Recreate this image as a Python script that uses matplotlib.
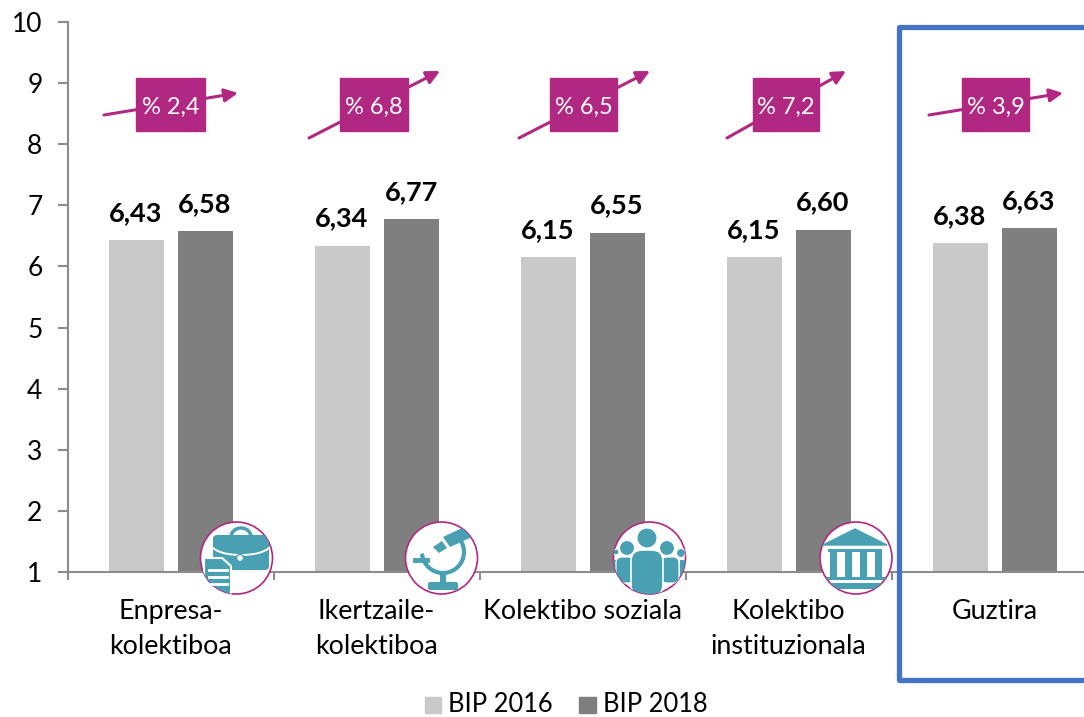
import matplotlib
matplotlib.use('Agg')
import matplotlib.pyplot as plt
import numpy as np
from matplotlib.patches import Circle, Rectangle, Polygon, FancyBboxPatch

plt.rcParams['font.family'] = ['Lato', 'DejaVu Sans']

# Data
categories = ['Enpresa-\nkolektiboa', 'Ikertzaile-\nkolektiboa', 'Kolektibo soziala',
              'Kolektibo\ninstituzionala', 'Guztira']
bip_2016 = [6.43, 6.34, 6.15, 6.15, 6.38]
bip_2018 = [6.58, 6.77, 6.55, 6.60, 6.63]
growth = ['% 2,4', '% 6,8', '% 6,5', '% 7,2', '% 3,9']
yticks = [1, 2, 3, 4, 5, 6, 7, 8, 9, 10]

W, H = 1084, 717
GREY_L = '#c9c9c9'
GREY_D = '#7f7f7f'
MAGENTA = '#b02882'
TEAL = '#48a0b2'
BLUE = '#4472c4'
AXIS = '#8c8c8c'

fig = plt.figure(figsize=(W / 100, H / 100), dpi=100)

# axes run past the right edge of the picture, last category is cut off
ax = fig.add_axes([67.5 / W, 1 - 572 / H, 1030 / W, 550 / H])
x = np.arange(len(categories))
bw = 55 / 206
off = 34.5 / 206
ax.bar(x - off, bip_2016, bw, bottom=0, color=GREY_L, label='BIP 2016')
ax.bar(x + off, bip_2018, bw, bottom=0, color=GREY_D, label='BIP 2018')

for i in range(len(categories)):
    ax.text(x[i] - off, bip_2016[i] + 0.25, f'{bip_2016[i]:.2f}'.replace('.', ','),
            ha='center', va='bottom', fontsize=19.5, fontweight='bold', color='black')
    ax.text(x[i] + off, bip_2018[i] + 0.25, f'{bip_2018[i]:.2f}'.replace('.', ','),
            ha='center', va='bottom', fontsize=19.5, fontweight='bold', color='black')

ax.set_xlim(-0.5, 4.5)
ax.set_ylim(1, 10)
ax.set_yticks(yticks)
ax.set_xticks(np.arange(-0.5, 5, 1))
ax.set_xticklabels([])
ax.tick_params(axis='y', labelsize=19, length=7, width=1.5, color=AXIS, pad=11)
ax.tick_params(axis='x', length=6, width=1.5, color=AXIS)
for s in ['top', 'right']:
    ax.spines[s].set_visible(False)
for s in ['left', 'bottom']:
    ax.spines[s].set_color(AXIS)
    ax.spines[s].set_linewidth(1.5)

# category labels, first line sits at the same height everywhere
for i, c in enumerate(categories):
    ax.annotate(c, (x[i], 1), xytext=(0, -19.5), textcoords='offset points', ha='center', va='top',
                fontsize=19.4, linespacing=1.5, color='black', annotation_clip=False)

# overlay in pixel coordinates for the annotation shapes
ov = fig.add_axes([0, 0, 1, 1], facecolor='none')
ov.set_xlim(0, W)
ov.set_ylim(H, 0)
ov.axis('off')

arrows = [(104, 115, 238, 93), (309, 138, 440, 71), (519, 138, 650, 71),
          (727, 138, 846, 71), (929, 115, 1063, 93)]
boxes = [(136, 205), (340, 408), (550, 617), (753, 819), (962, 1029)]
for (x0, y0, x1, y1), (b0, b1), g in zip(arrows, boxes, growth):
    ov.annotate('', xy=(x1, y1), xytext=(x0, y0),
                arrowprops=dict(arrowstyle='-|>,head_length=0.8,head_width=0.4', color=MAGENTA,
                                lw=2.2, shrinkA=0, shrinkB=0))
    ov.add_patch(Rectangle((b0, 78), b1 - b0, 53, color=MAGENTA, zorder=3))
    ov.text((b0 + b1) / 2, 107, g, color='white', ha='center', va='center', fontsize=17, zorder=4)

# highlight frame around the total
ov.plot([1090, 899, 899, 1090], [26.5, 26.5, 680, 680], color=BLUE, lw=3.8, solid_joinstyle='round')


def badge(cx):
    c = Circle((cx, 558), 36, fc='white', ec=MAGENTA, lw=1.2, zorder=5)
    ov.add_patch(c)
    return c


def add(p, c):
    # icon parts stay inside their round badge
    ov.add_patch(p)
    p.set_clip_path(c)


# briefcase
c = badge(236.5)
th = np.radians(np.linspace(180, 360, 20))
ov.plot(241 + 10 * np.cos(th), 537 + 9 * np.sin(th), color=TEAL, lw=2.5, zorder=6)
add(FancyBboxPatch((213, 535), 56, 35, boxstyle='round,pad=0,rounding_size=4', fc=TEAL, ec='none', zorder=6), c)
th = np.radians(np.linspace(20, 160, 30))
ov.plot(241 + 29 * np.cos(th), 545 + 10 * np.sin(th), color='white', lw=1.4, zorder=7)
ov.add_patch(Circle((240, 558), 3.5, fc='white', ec=TEAL, lw=1, zorder=7))
add(Polygon([(204, 558), (222, 558), (231, 566), (231, 594), (204, 594)], fc=TEAL, ec='white', lw=1.5, zorder=8), c)
for yy in (570, 577, 584):
    ov.plot([209, 227], [yy, yy], color='white', lw=2, zorder=9)

# microscope
c = badge(441.5)
add(Polygon([(443, 537), (462, 528), (472, 537), (450, 547)], fc=TEAL, ec='none', zorder=6), c)
add(Polygon([(433, 547), (442, 541), (447, 548), (439, 553)], fc=TEAL, ec='none', zorder=7), c)
th = np.radians(np.linspace(-35, 170, 40))
ov.plot(443 + 21 * np.cos(th), 552 + 21 * np.sin(th), color=TEAL, lw=3, zorder=6)
ov.plot([415, 427], [560, 560], color=TEAL, lw=3.5, zorder=6)
ov.add_patch(Rectangle((440, 572), 6, 12, fc=TEAL, ec='none', zorder=6))
ov.add_patch(FancyBboxPatch((428, 582), 30, 8, boxstyle='round,pad=0,rounding_size=2', fc=TEAL, ec='none', zorder=6))

# people
c = badge(649.5)
for cx_, cy_, r_ in [(616, 552, 3), (681, 553, 4.5), (627, 548, 7.5), (667, 548, 7.5), (647, 538, 10)]:
    add(Circle((cx_, cy_), r_, fc=TEAL, ec='white', lw=0.8, zorder=6), c)
for x0_, x1_ in [(613, 618), (680, 686)]:
    add(Rectangle((x0_, 560), x1_ - x0_, 17, fc=TEAL, ec='none', zorder=6), c)
for x0_, x1_ in [(616, 634), (661, 679)]:
    add(FancyBboxPatch((x0_, 557), x1_ - x0_, 26, boxstyle='round,pad=0,rounding_size=6', fc=TEAL, ec='white', lw=0.8, zorder=6), c)
add(FancyBboxPatch((631, 550), 32, 46, boxstyle='round,pad=0,rounding_size=11', fc=TEAL, ec='white', lw=1.2, zorder=7), c)

# building
c = badge(856)
ov.add_patch(Polygon([(823, 545), (855, 529), (887, 545)], fc=TEAL, ec=TEAL, lw=1, zorder=6))
ov.add_patch(Rectangle((828, 549), 54, 3, fc=TEAL, ec='none', zorder=6))
for xx in (830, 845, 860, 875):
    ov.add_patch(Rectangle((xx, 552), 6.5, 25, fc=TEAL, ec='none', zorder=6))
ov.add_patch(Rectangle((827, 577), 58, 3, fc=TEAL, ec='none', zorder=6))
add(Rectangle((822, 583), 68, 6, fc=TEAL, ec='none', zorder=6), c)

# legend
ov.add_patch(Rectangle((425, 697), 16, 16, color=GREY_L))
ov.text(448, 705, 'BIP 2016', fontsize=18.4, va='center', ha='left')
ov.add_patch(Rectangle((579, 697), 17, 16, color=GREY_D))
ov.text(603, 705, 'BIP 2018', fontsize=18.4, va='center', ha='left')

fig.savefig('out.png', dpi=100)
